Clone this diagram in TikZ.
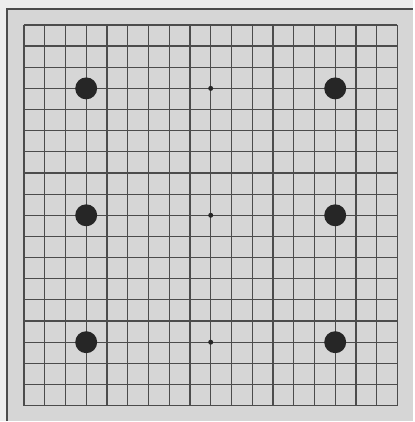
\documentclass[tikz,border=0pt]{standalone}
\usetikzlibrary{positioning}
\definecolor{tabla}{gray}{0.84}
\definecolor{papir}{gray}{0.93}
\tikzset{
  ko/.style={circle,fill=black!85,inner sep=0pt,minimum size=22pt},
  pont/.style={circle,fill=black!85,inner sep=0pt,minimum size=5pt},
  vonal/.style={draw=black!70,line width=1.2pt},
  szel/.style={draw=black!70,line width=2pt},
}
\begin{document}
\begin{tikzpicture}[x=1pt,y=-1pt]
  \fill[papir] (0,0) rectangle (414,422);
  \fill[tabla] (6,8) rectangle (414,422);
  \draw[szel] (7,422) -- (7,9) -- (414,9);
  % racs
  \foreach \i in {0,...,18} {
    \draw[vonal] ({24+20.8*\i},25) -- ({24+20.8*\i},407);
    \draw[vonal] (24,{25+21.2*\i}) -- (398.4,{25+21.2*\i});
  }
  % csillagpontok
  \foreach \r/\n in {3/f,9/k,15/a}
    \node[pont] (p\n) at ({24+20.8*9},{25+21.2*\r}) {};
  % kovek
  \foreach \r/\n in {3/f,9/k,15/a} {
    \node[ko] (b\n) at ({24+20.8*3},{25+21.2*\r}) {};
    \node[ko] (j\n) at ({24+20.8*15},{25+21.2*\r}) {};
  }
  \useasboundingbox (0,0) rectangle (414,422);
\end{tikzpicture}
\end{document}
